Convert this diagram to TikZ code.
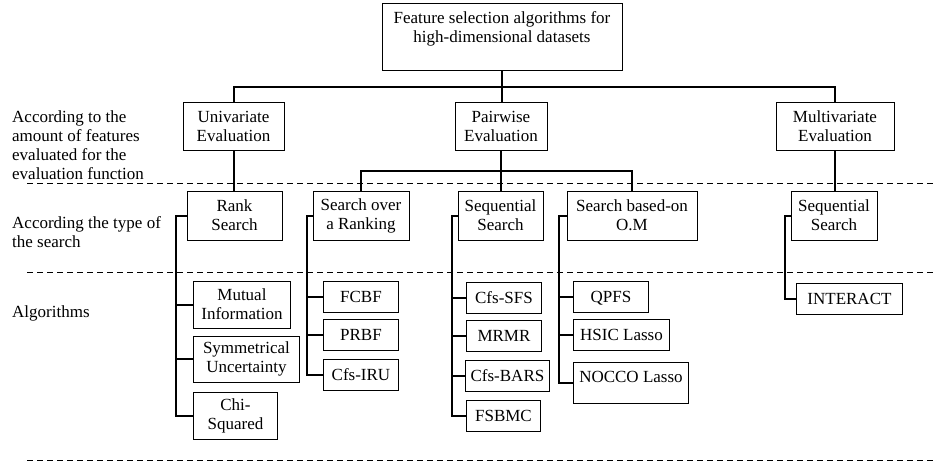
\documentclass[tikz,border=0pt]{standalone}
\usepackage{fontspec}
\setmainfont{Liberation Serif}
\usepackage{tikz}
\usetikzlibrary{positioning}

\begin{document}
\begin{tikzpicture}[
x=1pt, y=-1pt,
every node/.style={font=\fontsize{17}{19}\selectfont},
box/.style={draw=black, line width=0.9pt, align=center, inner xsep=3pt, inner ysep=3pt},
onebox/.style={box, text height=12pt, text depth=1pt, minimum height=31pt, anchor=west},
twobox/.style={box, minimum height=48pt},
edge/.style={draw=black, line width=2pt},
sep/.style={draw=black, line width=0.8pt, dash pattern=on 6pt off 4pt},
label/.style={anchor=west, align=left, inner sep=0pt},
]

% bounding box
\useasboundingbox (0,0) rectangle (933,463);

% levels
\node[label] (lvla) at (12,145) {According to the\\amount of features\\evaluated for the\\evaluation function};
\node[label] (lvlb) at (12,232) {According the type of\\the search};
\node[label] (lvlc) at (12,313) {Algorithms};

\draw[sep] (27,183) -- (933,183);
\draw[sep] (27,272) -- (933,272);
\draw[sep] (27,460) -- (933,460);

% root
\node[box, minimum width=240pt, minimum height=67pt] (top) at (502,36.5) {Feature selection algorithms for\\high-dimensional datasets\\\mbox{}};

% evaluation
\node[twobox, minimum width=101pt] (uni) at (233.5,126.5) {Univariate\\Evaluation};
\node[twobox, minimum width=92pt] (pair) at (501,126.5) {Pairwise\\Evaluation};
\node[twobox, minimum width=118pt] (multi) at (835,126) {Multivariate\\Evaluation};

% search
\node[twobox, minimum width=95pt, minimum height=49pt] (rank) at (234.5,215.5) {Rank\\Search};
\node[twobox, minimum width=96pt, minimum height=49pt] (sor) at (361,215.5) {Search over\\a Ranking};
\node[twobox, minimum width=85pt, minimum height=49pt] (seqa) at (500.5,215.5) {Sequential\\Search};
\node[twobox, minimum width=130pt, minimum height=49pt] (sbom) at (632,215.5) {Search based-on\\O.M};
\node[twobox, minimum width=86pt, minimum height=49pt] (seqb) at (834,215.5) {Sequential\\Search};

% algorithms
\node[twobox, anchor=west, minimum width=97pt, minimum height=47pt] (mi) at (193,304.5) {Mutual\\Information};
\node[twobox, anchor=west, minimum width=106pt, minimum height=46pt] (su) at (193,359) {Symmetrical\\Uncertainty};
\node[twobox, anchor=west, minimum width=84pt, minimum height=47pt] (chi) at (193,415.5) {Chi-\\Squared};

\node[onebox, minimum width=75pt] (fcbf) at (323,296.5) {FCBF};
\node[onebox, minimum width=75pt] (prbf) at (323,334.5) {PRBF};
\node[onebox, minimum width=75pt] (iru) at (323,375) {Cfs-IRU};

\node[onebox, minimum width=75pt] (sfs) at (466,298) {Cfs-SFS};
\node[onebox, minimum width=75pt] (mrmr) at (466,335.5) {MRMR};
\node[onebox, minimum width=84pt] (bars) at (465,376) {Cfs-BARS};
\node[onebox, minimum width=74pt] (fsbmc) at (466,415.5) {FSBMC};

\node[onebox, minimum width=75pt] (qpfs) at (573,297) {QPFS};
\node[onebox, minimum width=96pt] (hsic) at (573,335) {HSIC Lasso};
\node[box, anchor=west, text height=15pt, text depth=15pt, inner ysep=5.5pt, minimum width=115pt] (nocco) at (573,382.5) {NOCCO Lasso};

\node[onebox, minimum width=106pt] (interact) at (796,298.5) {INTERACT};

% tree
\coordinate (topbar) at (501,87);
\coordinate (pairbar) at (501,171);
\draw[edge] (top.south) -- (top.south |- pair.north);
\draw[edge] (uni.north) |- (topbar) -| (multi.north);
\draw[edge] (uni.south) -- (uni.south |- rank.north);
\draw[edge] (sor.north) |- (pairbar) -| (sbom.north);
\draw[edge] (pair.south) -- (pair.south |- seqa.north);
\draw[edge] (multi.south) -- (multi.south |- seqb.north);

\draw[edge] (rank.west) -- ++(-11,0) coordinate (rankbar) |- (chi.west);
\foreach \n in {mi,su} \draw[edge] (rankbar |- \n.west) -- (\n.west);

\draw[edge] (sor.west) -- ++(-6,0) coordinate (sorbar) |- (iru.west);
\foreach \n in {fcbf,prbf} \draw[edge] (sorbar |- \n.west) -- (\n.west);

\draw[edge] (seqa.west) -- ++(-6,0) coordinate (seqabar) |- (fsbmc.west);
\foreach \n in {sfs,mrmr,bars} \draw[edge] (seqabar |- \n.west) -- (\n.west);

\draw[edge] (sbom.west) -- ++(-8,0) coordinate (sbombar) |- (nocco.west);
\foreach \n in {qpfs,hsic} \draw[edge] (sbombar |- \n.west) -- (\n.west);

\draw[edge] (seqb.west) -- ++(-6,0) coordinate (seqbbar) |- (interact.west);

\end{tikzpicture}
\end{document}
